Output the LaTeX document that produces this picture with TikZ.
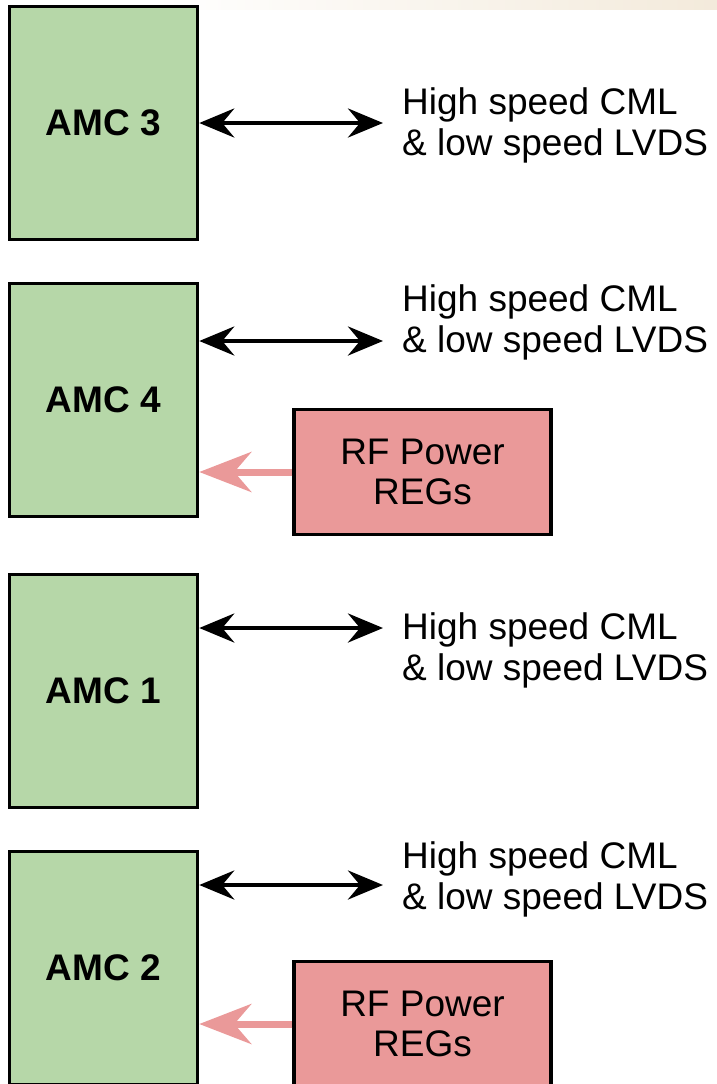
\documentclass[tikz,border=0pt]{standalone}
\usepackage{fontspec}
\setmainfont{Liberation Sans}
\usetikzlibrary{arrows.meta,positioning}
\definecolor{amcFill}{HTML}{B6D7A8}
\definecolor{rfFill}{HTML}{EA9999}
\definecolor{slideTop}{HTML}{F3EADB}
\tikzset{
  >=Stealth,
  % --- boards -------------------------------------------------------------
  amcbox/.style  = {draw=black, fill=amcFill, line width=3.5bp, inner sep=0pt,
                    minimum width=188bp, minimum height=233bp,
                    font=\fontsize{37bp}{40bp}\selectfont\bfseries},
  rfbox/.style   = {draw=black, fill=rfFill, line width=3.5bp, inner sep=0pt,
                    minimum width=257bp, minimum height=125bp, align=center,
                    font=\fontsize{37bp}{40bp}\selectfont},
  % --- links --------------------------------------------------------------
  buslink/.style = {draw=black, line width=4.5bp,
                    {Stealth[length=35bp,width=29bp,inset=12bp]}-{Stealth[length=35bp,width=29bp,inset=12bp]}},
  rflink/.style  = {draw=rfFill, line width=7bp,
                    -{Stealth[length=52bp,width=40bp,inset=17bp]}},
  % --- labels -------------------------------------------------------------
  buslbl/.style  = {anchor=west, align=left, inner sep=0pt,
                    font=\fontsize{37bp}{41bp}\selectfont},
}

\begin{document}
\begin{tikzpicture}[x=1bp, y=-1bp]
\useasboundingbox (0,0) rectangle (717,1084);
\clip (0,0) rectangle (717,1084);

% slide header strip
\shade[left color=white, right color=slideTop] (150,0) rectangle (717,9);

% AMC boards
\foreach \n/\y in {3/123, 4/400, 1/691, 2/968}{
  \node[amcbox] (amc\n) at (103.5,\y) {AMC \n};}

% CML / LVDS links
\foreach \n/\ay/\ty in {3/123/125, 4/341/322, 1/628/650, 2/885/879}{
  \node[buslbl] (bus\n) at (402,\ty) {High speed CML\\\& low speed LVDS};
  \coordinate (tip\n) at (383,\ay);
  \draw[buslink] (amc\n.east |- tip\n) -- (tip\n);}

% RF power regulators
\foreach \n/\y in {4/472, 2/1024}{
  \node[rfbox] (rf\n) at (422.5,\y) {RF Power\\REGs};
  \draw[rflink] (rf\n.west) -- (amc\n.east |- rf\n.west);}

\end{tikzpicture}
\end{document}
